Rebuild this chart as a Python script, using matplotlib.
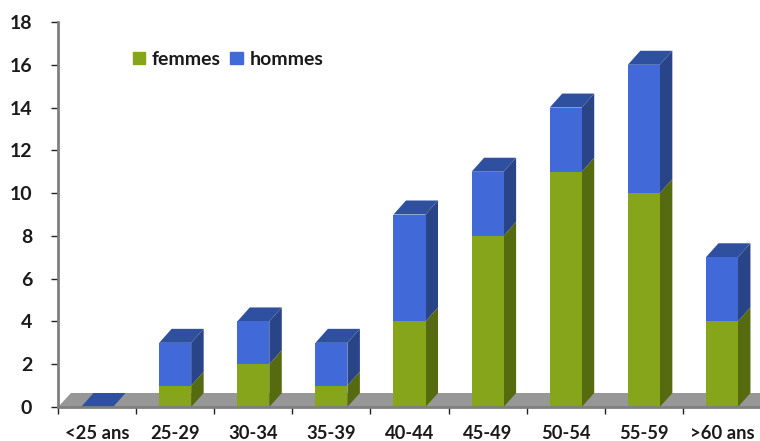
import matplotlib
matplotlib.use("Agg")
import matplotlib.pyplot as plt
from matplotlib.patches import Patch

categories = ["<25 ans", "25-29", "30-34", "35-39", "40-44", "45-49", "50-54", "55-59", ">60 ans"]
femmes = [0, 1, 2, 1, 4, 8, 11, 10, 4]
hommes = [0, 2, 2, 2, 5, 3, 3, 6, 3]
yticks = list(range(0, 20, 2))

W, H = 760, 441
GREEN, GREEN_SIDE = "#86a51a", "#566b10"
BLUE, BLUE_SIDE, BLUE_TOP = "#4169d8", "#2a4488", "#2f4f9f"
FLOOR = "#979797"
TXT = "#1a1a1a"

plt.rcParams["font.family"] = ["Lato", "DejaVu Sans"]
fig = plt.figure(figsize=(W / 100, H / 100), dpi=100)
ax = fig.add_axes([58 / W, (H - 407) / H, 703 / W, 385 / H])
ax.set_xlim(-0.5, 8.5)
ax.set_ylim(0, 18)
ax.patch.set_alpha(0)

bw = 32 / 78.1
dx = 12.5 / 78.1
dy = 14 / 21.39

# floor
ax.fill([-0.5, 8.5, 8.5, -0.5 + dx], [0, 0, dy, dy], color=FLOOR, lw=0, zorder=1, clip_on=True)

for i, (f, h) in enumerate(zip(femmes, hommes)):
    l, r = i - bw / 2, i + bw / 2
    t = f + h
    if f > 0:
        ax.fill([r, r + dx, r + dx, r], [0, dy, f + dy, f], color=GREEN_SIDE, lw=0, zorder=2)
    if h > 0:
        ax.fill([r, r + dx, r + dx, r], [f, f + dy, t + dy, t], color=BLUE_SIDE, lw=0, zorder=2)
    ax.fill([l, r, r + dx, l + dx], [t, t, t + dy, t + dy], color=BLUE_TOP, lw=0, zorder=2)

x = list(range(len(categories)))
ax.bar(x, femmes, width=bw, color=GREEN, lw=0, zorder=3, label="femmes")
ax.bar(x, hommes, width=bw, bottom=femmes, color=BLUE, lw=0, zorder=3, label="hommes")

for s in ("top", "right"):
    ax.spines[s].set_visible(False)
for s in ("left", "bottom"):
    ax.spines[s].set_color("#7f7f7f")
    ax.spines[s].set_linewidth(2)
    ax.spines[s].set_zorder(4)

ax.set_yticks(yticks)
ax.set_yticklabels([str(v) for v in yticks], fontsize=14, fontweight="bold", color=TXT)
ax.set_xticks([k - 0.5 for k in range(1, 9)] + [-0.5], minor=True)
ax.set_xticks(x)
ax.set_xticklabels(categories, fontsize=13.2, fontweight="bold", color=TXT)
ax.tick_params(axis="x", which="major", length=0, pad=13)
ax.tick_params(axis="x", which="minor", length=5, width=1, color="#222222")
ax.tick_params(axis="y", length=5, width=1, color="#222222", pad=13.5, direction="out")

ax.legend(
    handles=[Patch(color=GREEN, label="femmes"), Patch(color=BLUE, label="hommes")],
    ncol=2, frameon=False, prop={"size": 14, "weight": "bold"},
    loc="upper left", bbox_to_anchor=((129 - 58) / 703, 1 - (47 - 22) / 385),
    handlelength=0.62, handleheight=0.62, handletextpad=0.35, columnspacing=0.5,
    labelcolor=TXT, borderaxespad=0, borderpad=0.2,
)

fig.savefig("out.png", dpi=100)
